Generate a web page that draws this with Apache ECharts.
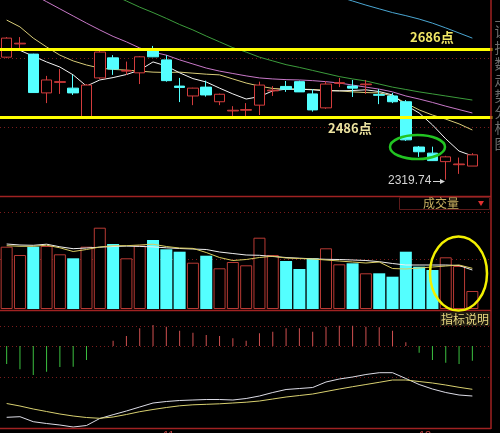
<!DOCTYPE html>
<html><head><meta charset="utf-8">
<script src="https://cdn.jsdelivr.net/npm/echarts@6/dist/echarts.min.js"></script>
<style>html,body{margin:0;padding:0;background:#000;}#c{width:500px;height:433px;}</style>
</head><body><div id="c"></div>
<script>
// ---- data ----
const categories = ['1','2','3','4','5','6','7','8','9','10','11','12','13','14','15','16','17','18','19','20','21','22','23','24','25','26','27','28','29','30','31','32','33','34','35','36',''];
const openPrice  = [2664,2703,2673,2559,2590,2573,2488,2603,2662,2623,2618,2683,2656,2579,2550,2576,2533,2506,2508,2523,2565,2578,2592,2556,2515,2587,2579,2583,2554,2550,2533,2400,2382,2357,2348,2344];
const closePrice = [2720,2705,2560,2597,2592,2559,2582,2679,2629,2625,2665,2665,2595,2575,2573,2553,2555,2508,2510,2582,2567,2570,2562,2509,2585,2589,2573,2585,2552,2533,2421,2386,2360,2371,2350,2377];
const lowPrice   = [2661,2688,2559,2529,2556,2553,2482,2600,2612,2612,2585,2664,2592,2532,2523,2548,2523,2488,2488,2494,2550,2562,2562,2504,2512,2576,2547,2556,2526,2529,2418,2371,2359,2304,2321,2344];
const highPrice  = [2723,2723,2674,2609,2629,2612,2585,2682,2670,2651,2667,2697,2670,2603,2574,2595,2557,2520,2529,2592,2579,2594,2595,2570,2594,2603,2597,2597,2570,2559,2538,2403,2401,2374,2369,2382];
const ma5  = [2691,2684,2667,2650,2635,2612,2579,2597,2604,2613,2626,2650,2638,2618,2601,2591,2573,2556,2541,2548,2565,2570,2570,2568,2565,2565,2566,2568,2563,2553,2523,2500,2465,2424,2388,2374];
const ma10 = [2773,2753,2720,2694,2670,2653,2641,2632,2628,2626,2623,2620,2619,2620,2617,2614,2612,2600,2588,2579,2572,2570,2570,2569,2567,2565,2562,2560,2559,2550,2529,2509,2494,2482,2468,2450];
const ma20 = [2891,2869,2848,2827,2806,2785,2764,2744,2725,2709,2691,2679,2670,2656,2644,2632,2623,2616,2609,2603,2600,2598,2597,2595,2592,2588,2582,2576,2570,2562,2550,2541,2531,2520,2510,2500];
const ma30 = [null,null,null,null,null,null,null,null,2847,2829,2811,2795,2778,2760,2744,2726,2709,2692,2679,2664,2653,2642,2634,2625,2616,2607,2600,2594,2585,2576,2569,2562,2556,2550,2544,2538];
const ma60 = [null,null,null,null,null,null,null,null,null,null,null,null,null,null,null,null,null,null,null,null,null,null,null,null,2853,2841,2829,2817,2806,2795,2786,2776,2764,2750,2735,2720];
const supportLevels = [2686, 2486];
const lowLabel = '2319.74';
const volume  = [623,540,623,630,547,507,623,813,650,507,635,690,597,573,463,533,407,470,437,713,540,480,400,507,607,447,457,357,357,323,573,423,390,517,430,180];
const volMa5  = [650,640,637,648,622,603,610,618,625,629,626,621,612,605,600,595,570,555,540,537,525,515,508,502,497,495,490,485,473,455,440,440,440,440,435,390];
const volMa10 = [633,627,627,638,612,575,595,620,633,633,640,648,625,610,606,565,515,485,495,515,528,510,505,500,490,480,470,460,470,405,400,410,420,430,440,407];
const macdHist = [-18,-23.3,-29,-25.7,-21,-20.7,-14,0,5.3,10,17.7,21,19.3,15.3,13.3,11,10,7.7,5.3,12.7,14.3,17.7,17.7,14.3,19.3,20.3,20.3,19.3,18.7,15.3,3.7,-6.7,-14,-16.7,-18,-14.7];
const dif = [-71.3,-70.7,-75.7,-77.5,-79,-81,-79.5,-72.5,-68.7,-65,-61,-57,-55.5,-54.5,-54,-53.5,-53.5,-54,-52.5,-50,-46.5,-43.5,-42.5,-41.5,-36,-33,-31,-28.5,-26.7,-26.7,-32.5,-38.5,-43,-46.5,-49,-50];
const dea = [-57.5,-60,-63,-65.5,-68,-70,-71.5,-72.3,-71,-68.5,-65.7,-63.5,-61.5,-59.8,-58.8,-58.3,-57.8,-57,-56.2,-55,-53,-51,-49.5,-48,-45.5,-43,-40.7,-38.5,-36.3,-34,-34,-35.5,-37,-39,-41.3,-43.3];

// ---- styles ----
const RED = '#d23c3c', CYAN = '#54ffff', DOT = '#7a1c1c', BORDER = '#a02222';
const chart = echarts.init(document.getElementById('c'), null, {renderer: 'canvas'});

const candleData = openPrice.map((o, i) => [o, closePrice[i], lowPrice[i], highPrice[i]]);
const volData = volume.map((v, i) => ({
  value: v,
  itemStyle: closePrice[i] >= openPrice[i]
    ? {color: '#000', borderColor: '#b83a34', borderWidth: 1}
    : {color: CYAN, borderWidth: 0}
}));
const macdData = macdHist.map(v => ({value: v, itemStyle: {color: v >= 0 ? '#d05050' : '#3cc040'}}));

const gridLeft = -9.38, gridWidth = 501.7;
const xAx = idx => ({type: 'category', gridIndex: idx, data: categories, show: false, boundaryGap: true});
const hLine = (y, x1, x2, color, dash, w, z) => ({type: 'line', z: z, silent: true,
  shape: {x1: x1, y1: y, x2: x2, y2: y}, style: {stroke: color, lineWidth: w || 1, lineDash: dash || null}});
const lineSeries = (name, data, color, xi, yi, w) => ({name, type: 'line', data, xAxisIndex: xi, yAxisIndex: yi,
  symbol: 'none', smooth: false, lineStyle: {color, width: w || 1}, z: 3, silent: true, connectNulls: false});

const option = {
  backgroundColor: '#000',
  animation: false,
  grid: [
    {left: gridLeft, width: gridWidth, top: 0, height: 196},
    {left: gridLeft, width: gridWidth, top: 196, height: 113},
    {left: gridLeft, width: gridWidth, top: 311, height: 117}
  ],
  xAxis: [xAx(0), xAx(1), xAx(2)],
  yAxis: [
    {type: 'value', gridIndex: 0, min: 2256, max: 2832, show: false},
    {type: 'value', gridIndex: 1, min: 0, max: 1130, show: false},
    {type: 'value', gridIndex: 2, min: -82, max: 35, show: false}
  ],
  series: [
    lineSeries('MA60', ma60, '#4aa6d2', 0, 0),
    lineSeries('MA30', ma30, '#3c9c3c', 0, 0),
    lineSeries('MA20', ma20, '#c878c8', 0, 0),
    lineSeries('MA10', ma10, '#d8cc78', 0, 0),
    lineSeries('MA5', ma5, '#f4f4f4', 0, 0),
    {
      name: 'K', type: 'candlestick', data: candleData, xAxisIndex: 0, yAxisIndex: 0, barWidth: 11, z: 4,
      itemStyle: {color: '#000', color0: CYAN, borderColor: RED, borderColor0: CYAN, borderWidth: 1},
      markLine: {
        silent: true, symbol: ['none', 'none'], label: {show: false}, z: 6,
        lineStyle: {color: '#ffff00', width: 3, type: 'solid'},
        data: supportLevels.map(v => ({yAxis: v}))
      }
    },
    {name: 'VOL', type: 'bar', data: volData, xAxisIndex: 1, yAxisIndex: 1, barWidth: 12, z: 2},
    lineSeries('VMA5', volMa5, '#f0f0f0', 1, 1),
    lineSeries('VMA10', volMa10, '#d8cc60', 1, 1),
    {name: 'MACD', type: 'bar', data: macdData, xAxisIndex: 2, yAxisIndex: 2, barWidth: 1, z: 2},
    lineSeries('DIF', dif, '#dcdce6', 2, 2),
    lineSeries('DEA', dea, '#d8d070', 2, 2)
  ],
  graphic: [
    // dotted grid lines
    hLine(58.5, 0, 491, DOT, [1, 3], 1, 0),
    hLine(127.5, 0, 491, DOT, [1, 3], 1, 0),
    hLine(212.5, 0, 491, DOT, [1, 3], 1, 0),
    hLine(259.5, 0, 491, DOT, [1, 3], 1, 0),
    hLine(326.5, 0, 491, DOT, [1, 3], 1, 0),
    hLine(346.5, 0, 491, DOT, [1, 3], 1, 0),
    hLine(377.5, 0, 491, DOT, [1, 3], 1, 0),
    // panel borders
    hLine(196.5, 0, 491, BORDER, null, 1.5, 50),
    hLine(310.5, 0, 491, BORDER, null, 1.5, 50),
    hLine(428.5, 0, 491, BORDER, null, 1.5, 50),
    {type: 'line', z: 50, silent: true, shape: {x1: 491, y1: 0, x2: 491, y2: 429}, style: {stroke: BORDER, lineWidth: 1.5}},
    // right-side clipped title column
    {type: 'text', z: 50, x: 494.5, y: 8, silent: true,
     style: {text: '上\n证\n指\n数\n走\n势\n分\n析\n图', font: '14px "Noto Sans CJK SC"', fill: '#6e6e6e', lineHeight: 16}},
    // level labels
    {type: 'text', z: 60, x: 410, y: 31, silent: true,
     style: {text: supportLevels[0] + '点', font: 'bold 13px "Noto Sans CJK SC"', fill: '#f2e866'}},
    {type: 'text', z: 60, x: 328, y: 122, silent: true,
     style: {text: supportLevels[1] + '点', font: 'bold 13px "Noto Sans CJK SC"', fill: '#ece2a0'}},
    // low label + arrow
    {type: 'text', z: 60, x: 388, y: 175, silent: true,
     style: {text: lowLabel, font: '12px "Liberation Sans"', fill: '#d4d4d4'}},
    {type: 'line', z: 60, silent: true, shape: {x1: 433, y1: 181.5, x2: 444, y2: 181.5}, style: {stroke: '#d4d4d4', lineWidth: 1}},
    {type: 'polygon', z: 60, silent: true, shape: {points: [[445, 181.5], [440, 179], [440, 184]]}, style: {fill: '#d4d4d4'}},
    // ellipses
    {type: 'ellipse', z: 70, silent: true, shape: {cx: 417.5, cy: 147, rx: 27.5, ry: 12},
     style: {fill: null, stroke: '#22c422', lineWidth: 2.5}},
    {type: 'ellipse', z: 70, silent: true, shape: {cx: 458.5, cy: 273.5, rx: 28.5, ry: 37},
     style: {fill: null, stroke: '#f2f000', lineWidth: 2.5}},
    // 成交量 box
    {type: 'rect', z: 55, silent: true, shape: {x: 399.5, y: 197.5, width: 90, height: 12},
     style: {fill: '#000', stroke: '#5c1a1a', lineWidth: 1}},
    {type: 'text', z: 56, x: 441, y: 203.5, silent: true,
     style: {text: '成交量', font: '12px "Noto Sans CJK SC"', fill: '#c8b060', textAlign: 'center', textVerticalAlign: 'middle'}},
    {type: 'polygon', z: 56, silent: true, shape: {points: [[478, 201], [484, 201], [481, 206]]}, style: {fill: '#e03030'}},
    // 指标说明 box
    {type: 'rect', z: 55, silent: true, shape: {x: 440, y: 312, width: 50, height: 14}, style: {fill: '#1e1a10'}},
    {type: 'text', z: 56, x: 441, y: 319, silent: true,
     style: {text: '指标说明', font: '12px "Noto Sans CJK SC"', fill: '#e8d880', textVerticalAlign: 'middle'}},
    // bottom date fragments
    {type: 'text', z: 50, x: 163, y: 430, silent: true, style: {text: '11', font: '11px "Liberation Sans"', fill: '#c04040'}},
    {type: 'text', z: 50, x: 419, y: 430, silent: true, style: {text: '12', font: '11px "Liberation Sans"', fill: '#c04040'}}
  ]
};
chart.setOption(option);
</script>
</body></html>
